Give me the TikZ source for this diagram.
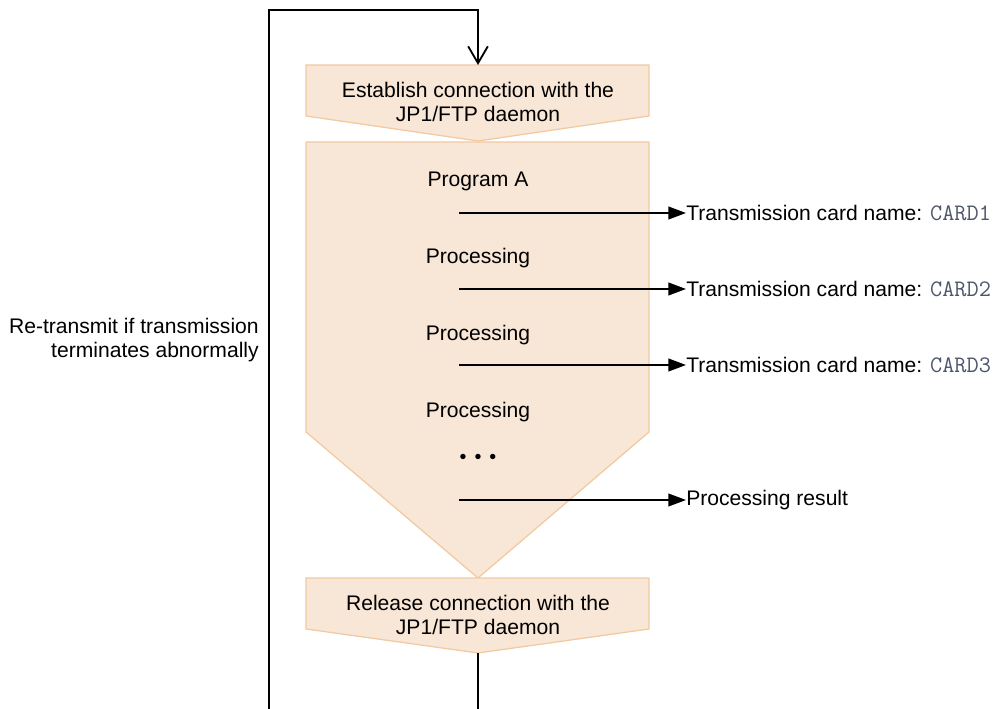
\documentclass[tikz,border=0pt]{standalone}
\usepackage{fontspec}
\setmainfont{Liberation Sans}
\usetikzlibrary{arrows.meta}
\definecolor{boxfill}{RGB}{248,230,214}
\definecolor{boxline}{RGB}{241,202,162}
\definecolor{cardgray}{RGB}{78,86,108}
\tikzset{
  stage/.style={fill=boxfill, draw=boxline, line width=0.9pt},
  flow/.style={line width=1.3pt},
  label/.style={anchor=west, inner sep=0pt},
  step text/.style={align=center, inner sep=0pt},
}
\newcommand{\cardname}[1]{Transmission card name: {\ttfamily\fontsize{16.8}{16.8}\selectfont\color{cardgray}#1}}
\begin{document}
\begin{tikzpicture}[x=0.025cm, y=-0.025cm, >={Triangle[length=12.5pt,width=9pt]},
    font=\fontsize{15}{17.7}\selectfont]
    \useasboundingbox (0,0) rectangle (996,709);

    % boxes
    \filldraw[stage] (306,65) -- (649,65) -- (649,116) -- (478,141) -- (306,116) -- cycle;
    \filldraw[stage] (306,142) -- (649,142) -- (649,432) -- (478,578) -- (306,432) -- cycle;
    \filldraw[stage] (306,578) -- (649,578) -- (649,629) -- (478,653) -- (306,629) -- cycle;

    % texts in the boxes
    \node[step text] (establish) at (478,102) {Establish connection with the\\JP1/FTP daemon};
    \node[step text] (progA) at (478,181) {Program A};
    \node[step text] (proc1) at (478,258) {Processing};
    \node[step text] (proc2) at (478,335) {Processing};
    \node[step text] (proc3) at (478,412) {Processing};
    \node[step text] (dots) at (478,459) {\fontsize{14}{14}\selectfont •\hspace{5.7pt}•\hspace{5.7pt}•};
    \node[step text] (release) at (478,615) {Release connection with the\\JP1/FTP daemon};

    % outputs
    \node[label] (card1) at (686,213) {\cardname{CARD1}};
    \node[label] (card2) at (686,289) {\cardname{CARD2}};
    \node[label] (card3) at (686,365) {\cardname{CARD3}};
    \node[label] (result) at (686,500) {Processing result};
    \coordinate (out1) at (459,213);
    \coordinate (out2) at (459,289);
    \coordinate (out3) at (459,365);
    \coordinate (out4) at (459,500);
    \draw[flow, ->] (out1) -- (card1.west);
    \draw[flow, ->] (out2) -- (card2.west);
    \draw[flow, ->] (out3) -- (card3.west);
    \draw[flow, ->] (out4) -- (result.west);

    % retry loop
    \coordinate (esttop) at (478,65);
    \coordinate (reltip) at (478,653);
    \coordinate (loopbot) at (269,709);
    \coordinate (loopend) at (478,709);
    \draw[flow] (reltip) -- (loopend);
    \draw[flow, -{Straight Barb[length=12pt,width=14pt,line width=1.3pt]}] (loopbot) |- (478,10) -- (esttop);
    \node[anchor=east, align=right, inner sep=0pt] (retry) at (259,340)
      {Re-transmit if transmission\\terminates abnormally};
\end{tikzpicture}
\end{document}
